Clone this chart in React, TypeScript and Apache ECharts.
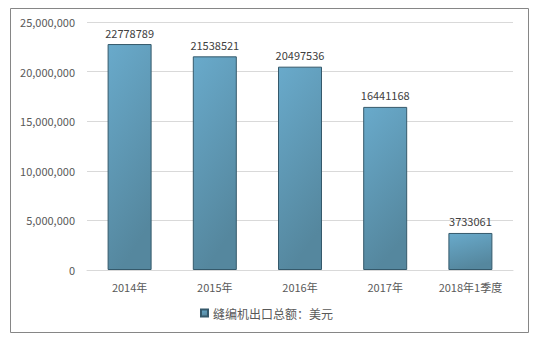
import React, { useEffect, useRef } from "react";
import * as echarts from "echarts";

const categories = ["2014年", "2015年", "2016年", "2017年", "2018年1季度"];
const values = [22778789, 21538521, 20497536, 16441168, 3733061];
const seriesName = "缝编机出口总额：美元";

export default function App() {
  const ref = useRef<HTMLDivElement>(null);
  useEffect(() => {
    const chart = echarts.init(ref.current!, null, { renderer: "svg" });
    const font = "'Microsoft YaHei', 'Noto Sans CJK SC', 'Noto Sans', sans-serif";
    chart.setOption({
      animation: false,
      backgroundColor: "#ffffff",
      textStyle: { fontFamily: font },
      graphic: [
        {
          type: "rect",
          shape: { x: 10.5, y: 8.5, width: 518, height: 324 },
          style: { fill: "none", stroke: "#868686", lineWidth: 1 },
          silent: true,
        },
      ],
      grid: { left: 87, right: 20, top: 22, bottom: 70 },
      legend: {
        bottom: 16,
        left: "center",
        itemWidth: 7,
        itemHeight: 7,
        itemGap: 4,
        icon: "rect",
        textStyle: { color: "#595959", fontSize: 12, fontFamily: font },
        data: [seriesName],
      },
      xAxis: {
        type: "category",
        data: categories,
        axisLine: { show: true, lineStyle: { color: "#d9d9d9" } },
        axisTick: { show: false },
        axisLabel: { color: "#595959", fontSize: 11, margin: 11 },
      },
      yAxis: {
        type: "value",
        min: 0,
        max: 25000000,
        interval: 5000000,
        axisLine: { show: false },
        axisTick: { show: false },
        axisLabel: {
          color: "#595959",
          fontSize: 11,
          margin: 12,
          formatter: (v: number) => v.toLocaleString("en-US"),
        },
        splitLine: { lineStyle: { color: "#d9d9d9" } },
      },
      series: [
        {
          name: seriesName,
          type: "bar",
          data: values,
          barWidth: 44,
          itemStyle: {
            color: new echarts.graphic.LinearGradient(0, 0, 0.3, 1, [
              { offset: 0, color: "#69aacb" },
              { offset: 1, color: "#55879e" },
            ]),
            borderColor: "#35596b",
            borderWidth: 1,
          },
          label: {
            show: true,
            position: "top",
            distance: 6,
            color: "#404040",
            fontSize: 11,
          },
        },
      ],
    });
    return () => chart.dispose();
  }, []);
  return (
    <div
      ref={ref}
      style={{ position: "absolute", left: 0, top: 0, width: 533, height: 340 }}
    />
  );
}
